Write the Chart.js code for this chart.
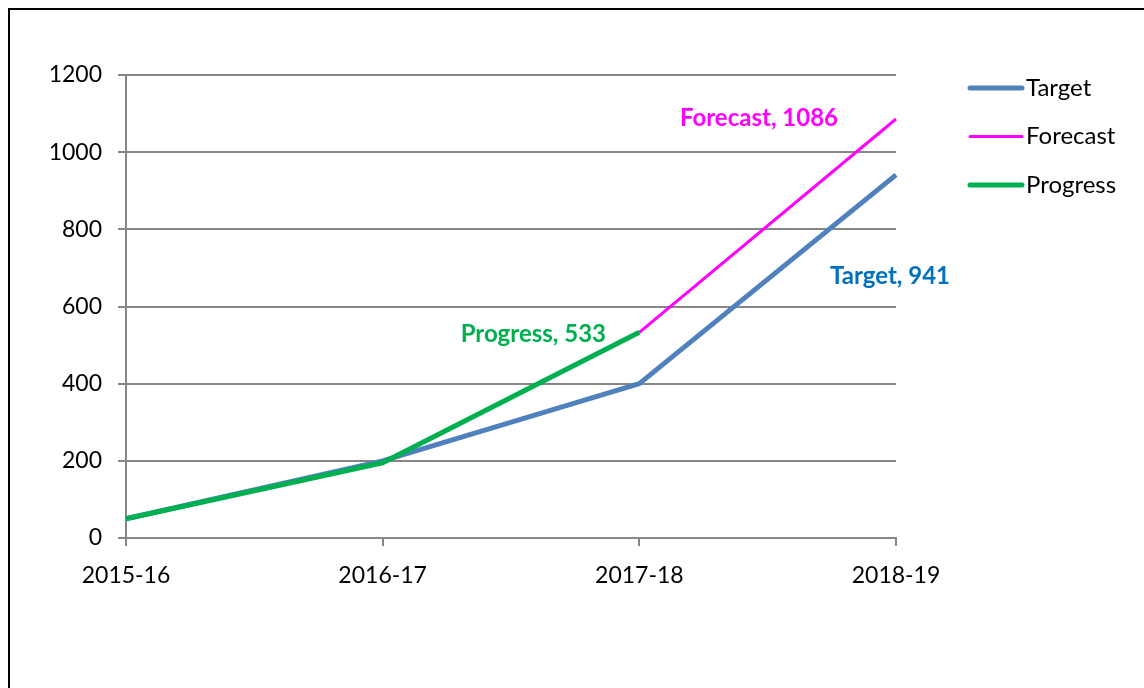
<!DOCTYPE html>
<html>
<head>
<meta charset="utf-8">
<script src="https://cdn.jsdelivr.net/npm/chart.js@4/dist/chart.umd.min.js"></script>
<style>
    html, body { margin: 0; padding: 0; background: #fff; overflow: hidden; }
    #frame { position: absolute; left: 8px; top: 8px; width: 1300px; height: 800px; border: 2px solid #000; }
    #chart { position: absolute; left: 0; top: 0; }
</style>
</head>
<body>
<div id="frame"></div>
<canvas id="chart" width="1144" height="688"></canvas>
<script>
// Данные
const years = ['2015-16', '2016-17', '2017-18', '2018-19'];
const targetValues = [50, 200, 400, 941];
const forecastValues = [null, null, 533, 1086];
const progressValues = [50, 195, 533, null];
const yTicks = [0, 200, 400, 600, 800, 1000, 1200];

const FONT = 'Lato, "Open Sans", sans-serif';

// Подписи данных (смещения относительно точки)
const labelPlugin = {
    id: 'pointLabels',
    afterDatasetsDraw(chart) {
        const ctx = chart.ctx;
        const items = [
            { ds: 0, idx: 3, text: 'Target, 941', color: '#0070C0', dx: -6, dy: 101 },
            { ds: 1, idx: 3, text: 'Forecast, 1086', color: '#FF00FF', dx: -137, dy: -1 },
            { ds: 2, idx: 2, text: 'Progress, 533', color: '#00B050', dx: -106, dy: 2 }
        ];
        ctx.save();
        ctx.font = 'bold 24px ' + FONT;
        ctx.textAlign = 'center';
        ctx.textBaseline = 'middle';
        items.forEach(it => {
            const pt = chart.getDatasetMeta(it.ds).data[it.idx];
            ctx.fillStyle = it.color;
            ctx.fillText(it.text, pt.x + it.dx, pt.y + it.dy);
        });
        ctx.restore();
    }
};

// Легенда справа
const legendPlugin = {
    id: 'sideLegend',
    afterDraw(chart) {
        const ctx = chart.ctx;
        ctx.save();
        ctx.font = '24px ' + FONT;
        ctx.textBaseline = 'middle';
        ctx.fillStyle = '#000';
        chart.data.datasets.forEach((ds, i) => {
            const y = 88 + i * 48.5;
            ctx.strokeStyle = ds.borderColor;
            ctx.lineWidth = ds.borderWidth;
            ctx.lineCap = 'round';
            ctx.beginPath();
            ctx.moveTo(970, y);
            ctx.lineTo(1022, y);
            ctx.stroke();
            ctx.fillText(ds.label, 1026, y);
        });
        ctx.restore();
    }
};

new Chart(document.getElementById('chart'), {
    type: 'line',
    data: {
        labels: years,
        datasets: [
            { label: 'Target', data: targetValues, borderColor: '#4F81BD', borderWidth: 5, order: 3 },
            { label: 'Forecast', data: forecastValues, borderColor: '#FF00FF', borderWidth: 3, order: 2 },
            { label: 'Progress', data: progressValues, borderColor: '#00B050', borderWidth: 5, order: 1 }
        ]
    },
    options: {
        responsive: false,
        animation: false,
        events: [],
        layout: { padding: { left: 0, right: 248, top: 75, bottom: 0 } },
        elements: {
            point: { radius: 0 },
            line: { tension: 0, borderJoinStyle: 'round', borderCapStyle: 'butt' }
        },
        plugins: { legend: { display: false }, tooltip: { enabled: false } },
        scales: {
            x: {
                offset: false,
                afterFit: s => { s.height = 150; },
                grid: { drawOnChartArea: false, drawTicks: true, tickLength: 8, color: '#868686', lineWidth: 2 },
                border: { color: '#868686', width: 2 },
                ticks: { color: '#000', font: { family: FONT, size: 23 }, padding: 16, maxRotation: 0, autoSkip: false }
            },
            y: {
                min: 0,
                max: 1200,
                afterFit: s => { s.width = 126; },
                afterBuildTicks: s => { s.ticks = yTicks.map(v => ({ value: v })); },
                grid: { color: '#868686', lineWidth: 2, tickLength: 8 },
                border: { color: '#868686', width: 2 },
                ticks: {
                    color: '#000',
                    font: { family: FONT, size: 23 },
                    padding: 16,
                    callback: v => String(v)
                }
            }
        }
    },
    plugins: [labelPlugin, legendPlugin]
});
</script>
</body>
</html>
